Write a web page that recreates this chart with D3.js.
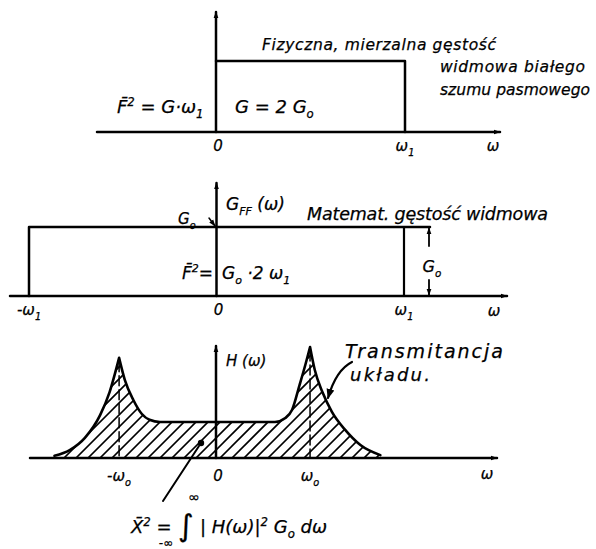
<!DOCTYPE html>
<html>
<head>
<meta charset="utf-8">
<script src="https://cdn.jsdelivr.net/npm/d3@7"></script>
<style>
  body { margin: 0; background: #fff; }
  text { font-family: "DejaVu Sans", sans-serif; font-style: italic; fill: #000; stroke: #000; stroke-width: 0.25; }
</style>
</head>
<body>
<svg id="chart" width="596" height="549"></svg>
<script>
// ---- Panel 1: physical (one-sided) density of band-limited white noise ----
const physBand = [0, 1];            // from 0 to ω1
const physLevel = 2;                // G = 2·G0 (in units of G0)
const physTicks = [{ v: 0, t: "0" }, { v: 1, t: "ω", s: "1" }];

// ---- Panel 2: mathematical (two-sided) spectral density ----
const mathBand = [-1, 1];           // from -ω1 to ω1
const mathLevel = 1;                // G0
const mathTicks = [{ v: -1, t: "-ω", s: "1" }, { v: 0, t: "0" }, { v: 1, t: "ω", s: "1" }];

// ---- Panel 3: system transmittance H(ω) ----
const hOmega = [-1.70, -1.54, -1.38, -1.22, -1.12, -1.02, -0.96, -0.87, -0.78, -0.70, -0.59,
                 0.62, 0.73, 0.80, 0.88, 0.94, 0.99, 1.04, 1.12, 1.22, 1.36, 1.52, 1.73];
const hValue = [0.06, 0.22, 0.56, 1.19, 1.83, 2.78, 2.17, 1.61, 1.22, 1.06, 1.00,
                1.00, 1.11, 1.33, 2.03, 2.58, 3.08, 2.44, 1.83, 1.28, 0.78, 0.36, 0.08];
const hPeakIdx = [5, 16];           // resonance peaks at -ω0 and ω0
const hTicks = [{ v: -1.02, t: "-ω", s: "o" }, { v: 0, t: "0" }, { v: 0.99, t: "ω", s: "o" }];

const svg = d3.select("#chart");
const defs = svg.append("defs");

defs.append("marker").attr("id", "arrow")
  .attr("viewBox", "0 0 10 10").attr("refX", 9).attr("refY", 5)
  .attr("markerWidth", 7).attr("markerHeight", 7).attr("markerUnits", "userSpaceOnUse")
  .attr("orient", "auto")
  .append("path").attr("d", "M0,1.5 L10,5 L0,8.5 Z").attr("fill", "#000");
defs.append("marker").attr("id", "arrowBig")
  .attr("viewBox", "0 0 10 10").attr("refX", 9).attr("refY", 5)
  .attr("markerWidth", 10).attr("markerHeight", 10).attr("markerUnits", "userSpaceOnUse")
  .attr("orient", "auto")
  .append("path").attr("d", "M0,1 L10,5 L0,9 Z").attr("fill", "#000");

const ink = (sel, w) => sel.attr("stroke", "#000").attr("stroke-width", w).attr("fill", "none")
  .attr("stroke-linecap", "round").attr("stroke-linejoin", "round");

// text with optional sub/superscript runs: parts = [[text, "sub"|"sup"|null]]
function label(x, y, parts, size, anchor = "start", width = null) {
  const t = svg.append("text").attr("x", x).attr("y", y)
    .attr("font-size", size).attr("text-anchor", anchor);
  if (width) t.attr("textLength", width).attr("lengthAdjust", "spacing");
  let shift = 0;
  parts.forEach(([s, kind]) => {
    const sp = t.append("tspan").text(s);
    let target = kind === "sub" ? size * 0.3 : kind === "sup" ? -size * 0.4 : 0;
    if (target !== shift) { sp.attr("dy", target - shift); shift = target; }
    if (kind) sp.attr("font-size", size * 0.65);
  });
  return t;
}

function axisX(x0, x1, y) {
  ink(svg.append("line"), 2.5).attr("x1", x0).attr("x2", x1).attr("y1", y).attr("y2", y)
    .attr("marker-end", "url(#arrow)");
}
function axisY(x, y0, y1) {
  ink(svg.append("line"), 2.5).attr("x1", x).attr("x2", x).attr("y1", y0).attr("y2", y1)
    .attr("marker-end", "url(#arrow)");
}
function ticks(scale, list, y, size) {
  list.forEach(d => {
    const parts = [[d.t, null]];
    if (d.s) parts.push([d.s, "sub"]);
    label(scale(d.v) + (d.v === 0 ? 2 : 0), y, parts, size, "middle");
  });
}

// ================= Panel 1 =================
const x1 = d3.scaleLinear().domain([0, 1]).range([216, 405]);
const y1 = d3.scaleLinear().domain([0, 2]).range([132, 61]);
axisX(97, 500, y1(0));
axisY(x1(0), y1(0), 12);
ink(svg.append("path"), 2.5).attr("d", d3.line()([
  [x1(physBand[0]), y1(physLevel)], [x1(physBand[1]), y1(physLevel)], [x1(physBand[1]), y1(0)]
]));
ticks(x1, physTicks, 151, 15);
label(493, 151, [["ω", null]], 15, "middle");
label(117, 113, [["F\u0304", null], ["2", "sup"], [" = G·ω", null], ["1", "sub"]], 18);
label(235, 113, [["G = 2 G", null], ["o", "sub"]], 18);
label(262, 50, [["Fizyczna, mierzalna gęstość", null]], 15.5, "start", 234);
label(440, 72, [["widmowa białego", null]], 15.5, "start", 145);
label(440, 95, [["szumu pasmowego", null]], 15.5, "start", 150);

// ================= Panel 2 =================
const x2 = d3.scaleLinear().domain([-1, 1]).range([29, 404]);
const y2 = d3.scaleLinear().domain([0, 1]).range([296, 227]);
axisX(10, 507, y2(0));
axisY(x2(0), y2(0), 183);
ink(svg.append("path"), 2.5).attr("d", d3.line()([
  [x2(mathBand[0]), y2(0)], [x2(mathBand[0]), y2(mathLevel)],
  [x2(mathBand[1]) + 26, y2(mathLevel)]
]));
ink(svg.append("line"), 2.2).attr("x1", x2(mathBand[1])).attr("x2", x2(mathBand[1]))
  .attr("y1", y2(mathLevel)).attr("y2", y2(0));
// dimension arrows for G0
const dimX = x2(mathBand[1]) + 25;
ink(svg.append("line"), 1.8).attr("x1", dimX).attr("x2", dimX).attr("y1", 246).attr("y2", y2(mathLevel) + 1)
  .attr("marker-end", "url(#arrow)");
ink(svg.append("line"), 1.8).attr("x1", dimX).attr("x2", dimX).attr("y1", 280).attr("y2", y2(0) - 1)
  .attr("marker-end", "url(#arrow)");
label(dimX + 3, 272, [["G", null], ["o", "sub"]], 16, "middle");
// small pointer to the level on the axis
ink(svg.append("line"), 1.5).attr("x1", 209).attr("x2", 215).attr("y1", 218).attr("y2", 226)
  .attr("marker-end", "url(#arrow)");
label(178, 224, [["G", null], ["o", "sub"]], 15);
label(226, 210, [["G", null], ["FF", "sub"], [" (ω)", null]], 17);
label(307, 220, [["Matemat. gęstość widmowa", null]], 17.5, "start", 241);
label(182, 279, [["F\u0304", null], ["2", "sup"], ["=", null]], 17);
label(222, 279, [["G", null], ["o", "sub"], [" ·2 ω", null], ["1", "sub"]], 17);
ticks(x2, mathTicks, 315, 15);
label(494, 316, [["ω", null]], 15, "middle");

// ================= Panel 3 =================
const x3 = d3.scaleLinear().domain([0, 1]).range([216, 311]);
const y3 = d3.scaleLinear().domain([0, 3.08]).range([458, 347]);
const hPts = hOmega.map((w, i) => [x3(w), y3(hValue[i])]);

// curve drawn piecewise so the resonance peaks stay pointed
const cuts = [0, ...hPeakIdx, hPts.length - 1];
const segLine = d3.line().curve(d3.curveMonotoneX);
let curvePath = "";
for (let k = 0; k < cuts.length - 1; k++) {
  const seg = segLine(hPts.slice(cuts[k], cuts[k + 1] + 1));
  curvePath += k === 0 ? seg : seg.replace(/^M[^C L]+/, "");
}
const areaPath = curvePath + `L${hPts[hPts.length - 1][0]},${y3(0)}L${hPts[0][0]},${y3(0)}Z`;
defs.append("clipPath").attr("id", "under").append("path").attr("d", areaPath);

const hatch = svg.append("g").attr("clip-path", "url(#under)");
d3.range(-80, 420, 12).forEach(x0 => {
  ink(hatch.append("line"), 1.7).attr("x1", x0).attr("y1", y3(0)).attr("x2", x0 + 130).attr("y2", y3(0) - 130);
});
hPeakIdx.forEach(i => {
  ink(svg.append("line"), 1.5).attr("x1", hPts[i][0]).attr("x2", hPts[i][0])
    .attr("y1", hPts[i][1] + 4).attr("y2", y3(0)).attr("stroke-dasharray", "10,4");
});
ink(svg.append("path"), 2.6).attr("d", curvePath);

axisX(30, 497, y3(0));
axisY(x3(0), y3(0), 346);
label(226, 366, [["H (ω)", null]], 15);
ticks(x3, hTicks, 481, 15);
label(487, 479, [["ω", null]], 15, "middle");

label(345, 358, [["Transmitancja", null]], 19, "start", 158);
label(350, 381, [["układu.", null]], 18, "start", 80);
ink(svg.append("path"), 2.2).attr("d", "M352,362 Q336,370 328,398").attr("marker-end", "url(#arrowBig)");

// pointer from the hatched area to the output mean square
svg.append("circle").attr("cx", 201).attr("cy", 443).attr("r", 3.2).attr("fill", "#000");
ink(svg.append("line"), 2).attr("x1", 199).attr("y1", 446).attr("x2", 163).attr("y2", 501);

label(131, 533, [["X\u0304", null], ["2", "sup"], [" = ", null]], 18);
svg.append("text").attr("x", 178).attr("y", 536).attr("font-size", 30).style("font-style", "normal").text("∫");
label(194, 502, [["∞", null]], 14, "middle");
label(166, 547, [["-∞", null]], 12, "middle");
label(200, 533, [["| H(ω)|", null], ["2", "sup"], [" G", null], ["o", "sub"], [" dω", null]], 18);
</script>
</body>
</html>
